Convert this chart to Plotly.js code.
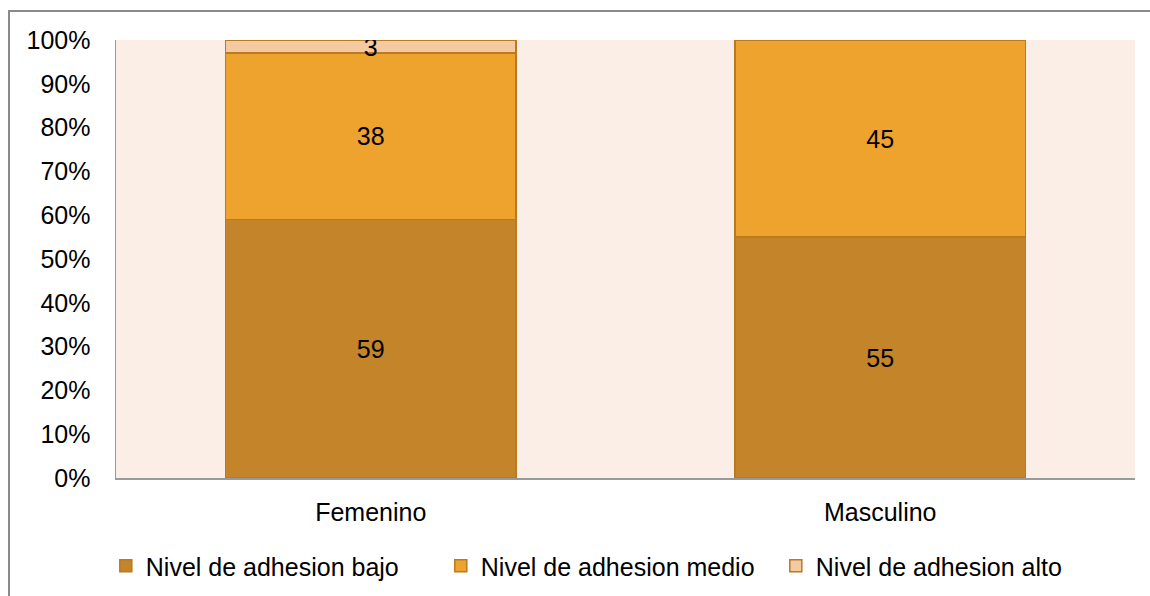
<!DOCTYPE html>
<html>
<head>
<meta charset="utf-8">
<script src="https://cdn.plot.ly/plotly-3.0.1.min.js"></script>
<style>
  html, body { margin: 0; padding: 0; background: #ffffff; }
  #wrap { position: relative; width: 1150px; height: 596px; overflow: hidden; }
  #chart { position: absolute; left: 0; top: 0; width: 1150px; height: 596px; }
  #frame { position: absolute; left: 8px; top: 10px; width: 1160px; height: 600px;
           border-top: 2px solid #8a8a8a; border-left: 2px solid #8a8a8a; pointer-events: none; }
</style>
</head>
<body>
<div id="wrap">
  <div id="chart"></div>
  <div id="frame"></div>
</div>
<script>
// Sex categories on the x axis
const categories = ['Femenino', 'Masculino'];

// Percentage of each adherence level per category
const seriesNames = ['Nivel de adhesion bajo', 'Nivel de adhesion medio', 'Nivel de adhesion alto'];
const bajo  = [59, 55];
const medio = [38, 45];
const alto  = [3, 0];

const yTicks = [0, 10, 20, 30, 40, 50, 60, 70, 80, 90, 100];
const yTickLabels = yTicks.map(v => v + '%');

const fills = ['#C4842A', '#EFA32F', '#F5C9A2'];
const edge = '#B97A20';
const font = 'Liberation Sans, Arial, sans-serif';
const fs = 25;

const series = [bajo, medio, alto];
const traces = series.map((vals, i) => ({
  type: 'bar',
  name: seriesNames[i],
  x: categories,
  y: vals,
  text: vals.map(v => (v > 0 ? String(v) : '')),
  textposition: 'inside',
  insidetextanchor: 'middle',
  textangle: 0,
  constraintext: 'none',
  textfont: { family: font, size: fs, color: '#000000' },
  marker: { color: fills[i], line: { color: edge, width: 1.5 } },
  hoverinfo: 'skip'
}));

const layout = {
  width: 1150,
  height: 596,
  barmode: 'stack',
  bargap: 0.43,
  paper_bgcolor: '#ffffff',
  plot_bgcolor: '#FBEEE6',
  margin: { l: 116, r: 15, t: 40, b: 118 },
  font: { family: font, size: fs, color: '#000000' },
  showlegend: true,
  legend: {
    orientation: 'h',
    xref: 'container', yref: 'container',
    x: 0.092, xanchor: 'left',
    y: 0.0503, yanchor: 'middle',
    entrywidthmode: 'pixels',
    entrywidth: 290,
    font: { family: font, size: fs, color: '#000000' },
    traceorder: 'normal',
    itemclick: false,
    itemdoubleclick: false
  },
  xaxis: {
    type: 'category',
    showline: true,
    linecolor: '#9a9a9a',
    linewidth: 1.5,
    showgrid: false,
    zeroline: false,
    automargin: false,
    ticks: '',
    ticklabelstandoff: 11,
    tickfont: { family: font, size: fs, color: '#000000' }
  },
  yaxis: {
    range: [0, 100],
    tickmode: 'array',
    tickvals: yTicks,
    ticktext: yTickLabels,
    showline: true,
    linecolor: '#9a9a9a',
    linewidth: 1.5,
    showgrid: false,
    zeroline: false,
    automargin: false,
    ticks: '',
    ticklabelstandoff: 19,
    tickfont: { family: font, size: fs, color: '#000000' }
  },
  hovermode: false
};

Plotly.newPlot('chart', traces, layout, { displayModeBar: false, staticPlot: true });
</script>
</body>
</html>
